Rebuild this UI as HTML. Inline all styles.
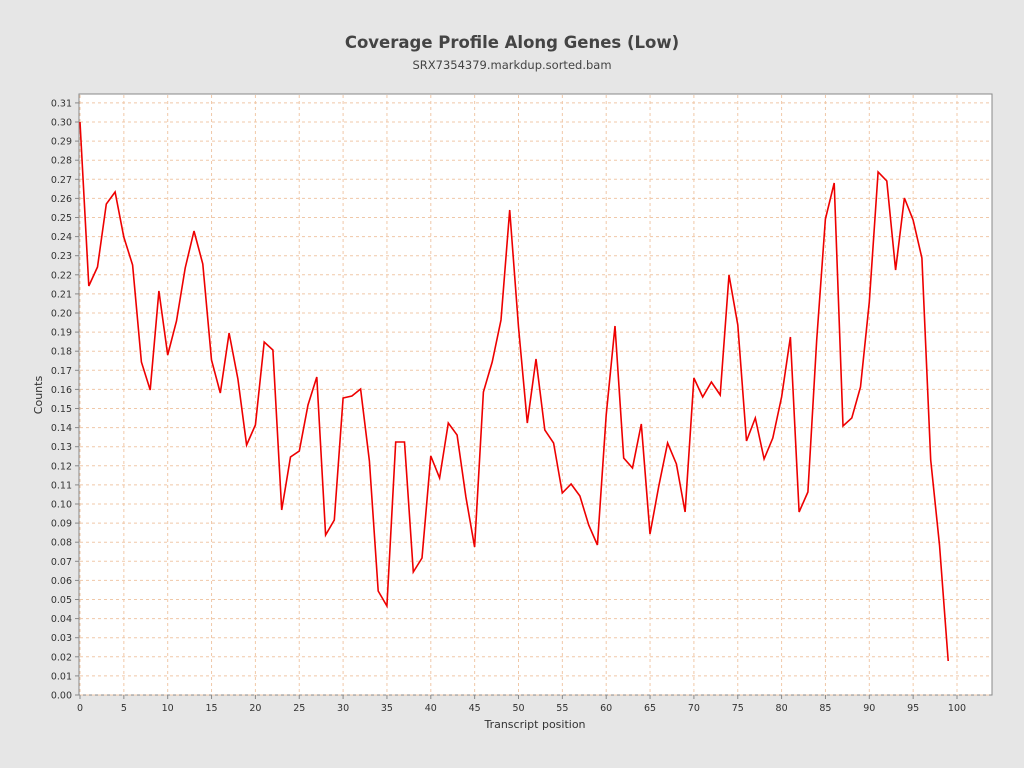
<!DOCTYPE html>
<html><head><meta charset="utf-8"><style>
body{margin:0;background:#e6e6e6;}
svg{display:block;font-family:"DejaVu Sans","Liberation Sans",sans-serif;}
</style></head><body>
<svg width="1024" height="768" xmlns="http://www.w3.org/2000/svg">
<rect width="1024" height="768" fill="#e6e6e6"/>
<text x="512" y="48" text-anchor="middle" font-size="16.5" font-weight="bold" fill="#444">Coverage Profile Along Genes (Low)</text>
<text x="512" y="69" text-anchor="middle" font-size="11.5" fill="#444">SRX7354379.markdup.sorted.bam</text>
<rect x="79" y="94" width="913" height="601" fill="#fff" stroke="#888"/>
<g id="grid" stroke="#f0c8a8" stroke-dasharray="3,3" stroke-width="1"></g>
<g id="ticks" font-size="9.5" fill="#333"></g>
<polyline id="line" fill="none" stroke="#ee0000" stroke-width="1.6"/>
<text x="535" y="728" text-anchor="middle" font-size="11" fill="#333">Transcript position</text>
<text x="42" y="395" text-anchor="middle" font-size="11" fill="#333" transform="rotate(-90 42 395)">Counts</text>
</svg>
<script>
var ns="http://www.w3.org/2000/svg";
var g=document.getElementById('grid'),t=document.getElementById('ticks');
function el(p,n,a,tx){var e=document.createElementNS(ns,n);for(var k in a)e.setAttribute(k,a[k]);if(tx!=null)e.textContent=tx;p.appendChild(e);}
for(var i=0;i<=31;i++){var y=695-i*19.1;
 el(g,'line',{x1:80,x2:992,y1:y,y2:y});
 el(t,'line',{x1:75,x2:79,y1:y,y2:y,stroke:'#888'});
 el(t,'text',{x:72,y:y+3.5,'text-anchor':'end'},(i/100).toFixed(2));}
for(var i=0;i<=100;i+=5){var x=80+i*8.77;
 el(g,'line',{x1:x,x2:x,y1:95,y2:695});
 el(t,'line',{x1:x,x2:x,y1:695,y2:699,stroke:'#888'});
 el(t,'text',{x:x,y:711,'text-anchor':'middle'},i);}
var d=[122,286,267,204,192,237,265,362,390,291,355,321,268,231,264,360,393,333,379,445,425,342,350,510,457,451,405,377,535,520,398,396,389,461,591,606,442,442,572,558,456,478,423,435,497,547,392,362,320,210,327,423,359,430,443,493,484,496,525,545,415,326,458,468,424,534,486,443,464,512,378,397,382,395,275,325,441,418,459,438,397,337,512,492,340,219,183,426,418,387,302,172,181,270,198,220,258,460,545,661];
document.getElementById('line').setAttribute('points',d.map(function(y,i){return (80+i*8.77).toFixed(1)+','+y}).join(' '));
</script>
</body></html>
